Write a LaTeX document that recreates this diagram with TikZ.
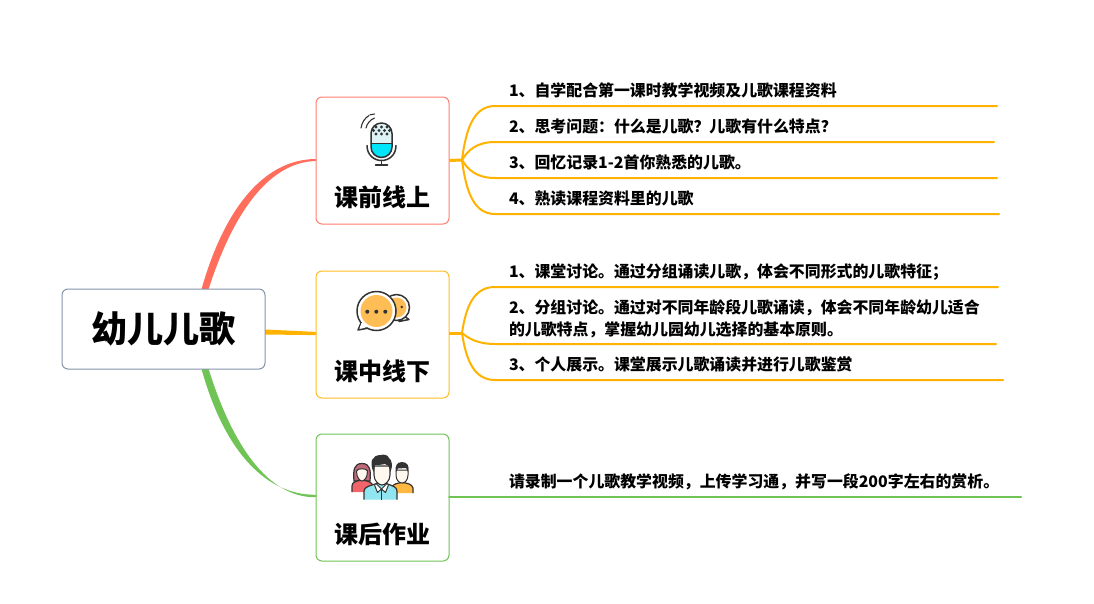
\documentclass[tikz,border=0pt]{standalone}
\usepackage{fontspec}
\setmainfont{Noto Sans CJK SC}
\usetikzlibrary{calc}
\definecolor{cred}{HTML}{FF6E5C}
\definecolor{camb}{HTML}{FFB300}
\definecolor{cgrn}{HTML}{6FC455}
\definecolor{credl}{HTML}{FF7F70}
\definecolor{cambl}{HTML}{FFBC22}
\definecolor{rootl}{HTML}{8594AB}
\definecolor{ink}{HTML}{333333}
\definecolor{bub}{HTML}{FFBE55}
\definecolor{micb}{HTML}{DDF3F6}
\definecolor{micc}{HTML}{00E5FA}
\definecolor{shirt}{HTML}{8FE6F0}
\definecolor{skin}{HTML}{FFF8EE}
\definecolor{hairw}{HTML}{BF6A78}
\definecolor{redb}{HTML}{F0646A}
\definecolor{yelb}{HTML}{FFB840}
\newcommand{\lfend}{\rule[-10pt]{0pt}{10pt}}
\newcommand{\lfendb}{\rule[-9pt]{0pt}{9pt}}
\tikzset{
  box/.style={draw=#1,rounded corners=6pt,line width=1pt,outer sep=0pt,fill=white,minimum width=133pt,minimum height=127pt,inner sep=0pt,anchor=north west},
  rootbox/.style={draw=rootl,rounded corners=6pt,line width=1pt,outer sep=0pt,fill=white,minimum width=203pt,minimum height=80pt,inner sep=0pt,anchor=north west,font=\fontsize{36}{40}\selectfont\bfseries},
  boxtitle/.style={font=\fontsize{24}{28}\selectfont\bfseries,inner sep=0pt},
  leaf/.style={anchor=south west,inner sep=0pt,outer sep=0pt,text width=#1pt,font=\fontsize{15.9}{22}\selectfont\bfseries,align=left},
  conn/.style={draw=#1,line width=2pt,line cap=round},
  stem/.style={draw=#1,line width=3pt},
  icon/.style={draw=ink,line width=1.5pt,line join=round,line cap=round},
}
\begin{document}
\begin{tikzpicture}[x=1pt,y=-1pt]
\useasboundingbox (0,0) rectangle (1094,603);
% tapered branches (behind the boxes)
\coordinate (rt) at (205,289);
\coordinate (rb) at (205,369);
\coordinate (ra) at (316,160);
\coordinate (rc) at (316,496);
\coordinate (rm) at (265,332);
\coordinate (rn) at (316,333.5);
\fill[cred] ($(rt)+(-4,2)$) .. controls (223,212) and (262,159.2) .. ($(ra)+(0,-1)$) -- ($(ra)+(0,1)$) .. controls (268,162) and (232,215) .. ($(rt)+(3,2)$) -- cycle;
\fill[cgrn] ($(rb)+(-4,-2)$) .. controls (222,445) and (262,495.2) .. ($(rc)+(0,-1.2)$) -- ($(rc)+(0,1.2)$) .. controls (268,498) and (232,445) .. ($(rb)+(3,-2)$) -- cycle;
\fill[camb] ($(rm)+(0,-2.5)$) -- ($(rn)+(0,-1.6)$) -- ($(rn)+(0,1.6)$) -- ($(rm)+(0,2.5)$) -- cycle;
% nodes
\node[rootbox] (root) at (62,289) {幼儿儿歌};
\node[box=credl] (a) at (316,97) {};
\node[box=cambl] (b) at (316,271) {};
\node[box=cgrn] (c) at (316,434) {};
\node[boxtitle] (ta) at (382,197) {课前线上};
\node[boxtitle] (tb) at (382,371) {课中线下};
\node[boxtitle] (tc) at (382,534) {课后作业};
% leaves group 1
\coordinate (h1) at (462,160);
\draw[stem=camb] (a.east) -- (h1);
\node[leaf=502] (a1) at (495,106) {\hspace*{14pt}1、自学配合第一课时教学视频及儿歌课程资料\lfend};
\node[leaf=499] (a2) at (495,142) {\hspace*{14pt}2、思考问题：什么是儿歌？儿歌有什么特点？\lfend};
\node[leaf=502] (a3) at (495,178) {\hspace*{14pt}3、回忆记录1-2首你熟悉的儿歌。\lfend};
\node[leaf=504] (a4) at (495,214) {\hspace*{14pt}4、熟读课程资料里的儿歌\lfend};
\draw[conn=camb] (h1) .. controls (466,128) and (474,106) .. (a1.south west) -- (a1.south east);
\draw[conn=camb] (h1) .. controls (468,150) and (477,142) .. (a2.south west) -- (a2.south east);
\draw[conn=camb] (h1) .. controls (468,170) and (477,178) .. (a3.south west) -- (a3.south east);
\draw[conn=camb] (h1) .. controls (466,192) and (474,214) .. (a4.south west) -- (a4.south east);
% leaves group 2
\coordinate (h2) at (462,333);
\draw[stem=camb] (b.east |- h2) -- (h2);
\node[leaf=503] (b1) at (495,287) {\hspace*{14pt}1、课堂讨论。通过分组诵读儿歌，体会不同形式的儿歌特征；\lfend};
\node[leaf=501] (b2) at (495,344) {\hspace*{14pt}2、分组讨论。通过对不同年龄段儿歌诵读，体会不同年龄幼儿适合\\\hspace*{14pt}的儿歌特点，掌握幼儿园幼儿选择的基本原则。\lfendb};
\node[leaf=508] (b3) at (495,380) {\hspace*{14pt}3、个人展示。课堂展示儿歌诵读并进行儿歌鉴赏\lfend};
\draw[conn=camb] (h2) .. controls (466,306) and (474,287) .. (b1.south west) -- (b1.south east);
\draw[conn=camb] (h2) .. controls (468,338) and (477,344) .. (b2.south west) -- (b2.south east);
\draw[conn=camb] (h2) .. controls (466,360) and (474,380) .. (b3.south west) -- (b3.south east);
% leaf group 3
\node[leaf=572] (c1) at (449,496.5) {\hspace*{60pt}请录制一个儿歌教学视频，上传学习通，并写一段200字左右的赏析。\lfendb};
\draw[conn=cgrn] (c1.south west) -- (c1.south east);
% microphone icon
\fill[micb] (371,133.5) arc (180:360:10.5) -- (392,143.5) -- (371,143.5) -- cycle;
\foreach \p in {(376,127),(381.5,127),(387,127),(373.5,130.5),(379,130.5),(384.5,130.5),(389.5,130.5),(376,134),(381.5,134),(387,134)} {\fill[ink] \p circle (1.6);}
\fill[micc] (371,143.5) -- (392,143.5) -- (392,147) arc (0:180:10.5) -- cycle;
\draw[icon] (371,147) -- (371,133.5) arc (180:360:10.5) -- (392,147) arc (0:180:10.5) -- cycle;
\draw[icon] (371,143.5) -- (392,143.5);
\draw[icon] (367,145.5) .. controls (367,155) and (374,160.5) .. (381.5,160.5) .. controls (389,160.5) and (396,155) .. (396,145.5);
\draw[icon] (381.5,160.5) -- (381.5,165) (375.5,165) -- (387.5,165);
\draw[icon,line width=1.1pt] (361,128) .. controls (362,122) and (365,118) .. (369,115.5);
\draw[icon,line width=1.1pt] (366,128) .. controls (367,123.5) and (370,120) .. (374.5,118);
\draw[icon,line width=1.1pt] (370,114.8) -- (374.5,114);
% chat icon
\draw[icon,fill=white] (404,316) -- (409,319.5) -- (399,321.5) -- cycle;
\draw[icon,fill=white] (396.5,307.5) circle (13);
\fill[bub] (396.5,307.5) circle (10);
\fill[ink] (401.7,307) circle (1.4);
\draw[icon,fill=white] (361,323) -- (358,330) -- (369,328) -- cycle;
\draw[icon,fill=white] (376.5,311) circle (19.5);
\fill[white] (361.5,323) -- (359.5,328.5) -- (368,327) -- (372,320) -- cycle;
\fill[bub] (376.5,311) circle (16);
\foreach \x in {367.3,376.3,385.3} {\fill[ink] (\x,311.7) circle (2);}
% people icon
\fill[hairw,draw=ink,line width=1.2pt] (354,481) .. controls (353,470) and (354,463.5) .. (362,463.5) .. controls (370,463.5) and (371,470) .. (370,481) -- cycle;
\fill[redb,draw=ink,line width=1.2pt,line join=round] (352,492) -- (352,486) .. controls (352,482) and (356,481) .. (362,480) .. controls (368,481) and (372,482) .. (373,486) -- (373,492);
\fill[skin,draw=ink,line width=1pt] (356.5,471) .. controls (357,468) and (367,468) .. (367.5,471) .. controls (367.5,478) and (364,481) .. (362,481) .. controls (360,481) and (356.5,478) .. (356.5,471) -- cycle;
\fill[yelb,draw=ink,line width=1.2pt,line join=round] (392,493) -- (392,487) .. controls (393,484) and (398,483) .. (402,482.5) .. controls (407,483) and (412,484) .. (413,488) -- (413,493);
\fill[skin,draw=ink,line width=1pt] (396,470) -- (408,470) -- (408,475) .. controls (408,480) and (405,483) .. (402,483) .. controls (399,483) and (396,480) .. (396,475) -- cycle;
\fill[ink] (396,472) .. controls (394.5,466) and (397,462) .. (402,462) .. controls (407,462) and (410,466) .. (408,472) -- (406,468) -- (398,468.5) -- cycle;
\fill[shirt,draw=ink,line width=1.2pt,line join=round] (364,499.5) -- (364,491) .. controls (364,487) and (370,485.5) .. (377,483.5) -- (386,483.5) .. controls (392,485.5) and (397,487) .. (397,491) -- (397,499.5);
\fill[white,draw=ink,line width=1pt,line join=round] (376,483.5) -- (381.5,489) -- (377.5,492.5) -- (374.5,485) -- cycle;
\fill[white,draw=ink,line width=1pt,line join=round] (387,483.5) -- (381.5,489) -- (385.5,492.5) -- (388.5,485) -- cycle;
\draw[ink,line width=1pt] (381.5,489) -- (381.5,499.5);
\fill[skin,draw=ink,line width=1.1pt] (374,466) -- (390,466) -- (390,475) .. controls (390,481) and (385,485) .. (382,485) .. controls (379,485) and (374,481) .. (374,475) -- cycle;
\fill[ink] (373.5,472) .. controls (369,462) and (372,455) .. (381,455) .. controls (384,454) and (388,455) .. (389,458) .. controls (392,460) and (393,466) .. (390.5,472) .. controls (389,466) and (388,464) .. (385,464) .. controls (381,465) and (376,465) .. (375,465) -- cycle;
\end{tikzpicture}
\end{document}
